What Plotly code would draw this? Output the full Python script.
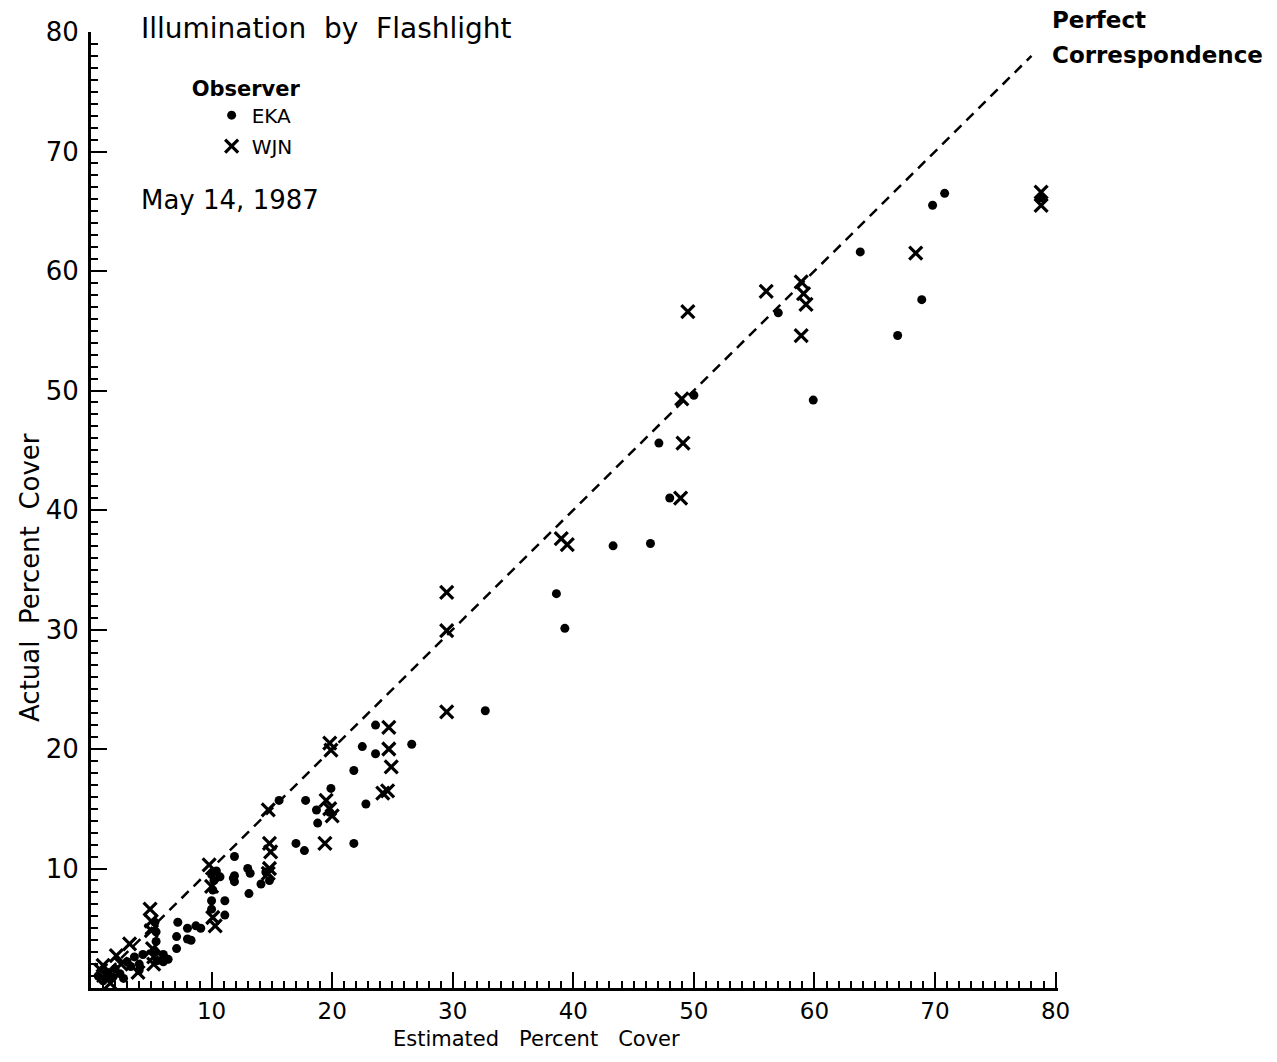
import plotly.graph_objects as go

# ---- data ----
eka_x = [0.6, 1.0, 1.3, 1.8, 2.0, 2.4, 2.7, 3.0, 3.3, 3.6, 4.0, 4.3, 4.0,
         5.3, 5.4, 5.4, 5.3, 5.5, 6.0, 6.4, 6.0,
         7.2, 8.0, 9.1, 7.1, 8.0, 7.1, 8.7, 8.3,
         10.0, 10.4, 10.7, 10.2, 10.1, 10.0, 10.0, 11.1, 11.1,
         11.9, 11.9, 11.9, 13.0, 13.2, 13.1, 14.1, 14.5, 14.8, 11.8,
         15.6, 17.8, 18.7, 18.8, 19.9, 17.0, 17.7, 19.8,
         21.8, 22.8, 21.8, 22.5, 23.6, 23.6, 26.6,
         32.7, 38.6, 39.3, 43.3, 46.4, 47.1, 48.0, 50.0,
         57.0, 59.9, 63.8, 66.9, 68.9, 69.8, 70.8, 78.8]
eka_y = [1.0, 0.6, 1.3, 0.9, 1.6, 1.2, 0.8, 2.2, 1.8, 2.6, 2.0, 2.8, 1.5,
         5.5, 4.7, 3.9, 3.1, 2.3, 2.8, 2.4, 2.2,
         5.5, 5.0, 5.0, 4.3, 4.1, 3.3, 5.2, 4.0,
         9.5, 9.8, 9.3, 9.0, 8.2, 7.3, 6.6, 7.3, 6.1,
         11.0, 9.4, 8.9, 10.0, 9.6, 7.9, 8.7, 9.7, 9.0, 9.2,
         15.7, 15.7, 14.9, 13.8, 16.7, 12.1, 11.5, 14.7,
         12.1, 15.4, 18.2, 20.2, 19.6, 22.0, 20.4,
         23.2, 33.0, 30.1, 37.0, 37.2, 45.6, 41.0, 49.6,
         56.5, 49.2, 61.6, 54.6, 57.6, 65.5, 66.5, 66.1]

wjn_x = [0.8, 1.0, 1.6, 2.1, 3.2, 3.9, 2.5, 1.3,
         4.9, 5.0, 5.0, 5.1, 5.2, 5.2,
         9.8, 10.3, 10.1, 10.0,
         14.7, 14.8, 14.9, 14.7, 14.8,
         19.8, 19.9, 19.5, 20.0, 19.4, 19.8,
         24.7, 24.7, 24.9, 24.6, 24.2,
         29.5, 29.5, 29.5, 39.0, 39.5,
         48.9, 49.1, 49.0, 49.5, 56.0,
         58.9, 59.1, 59.3, 58.9, 68.4, 78.8, 78.8]
wjn_y = [1.5, 1.9, 0.4, 2.7, 3.7, 1.3, 2.0, 1.0,
         6.6, 5.6, 4.8, 3.3, 2.6, 2.0,
         10.3, 5.2, 5.9, 8.5,
         14.9, 12.1, 11.4, 9.6, 10.0,
         20.5, 19.9, 15.7, 14.4, 12.1, 15.0,
         21.8, 20.0, 18.5, 16.5, 16.3,
         33.1, 29.9, 23.1, 37.6, 37.1,
         41.0, 45.6, 49.3, 56.6, 58.3,
         59.1, 58.1, 57.2, 54.6, 61.5, 66.6, 65.5]

line_x = [0.5, 78.0]
line_y = list(line_x)

x_ticks = [10, 20, 30, 40, 50, 60, 70, 80]
y_ticks = [10, 20, 30, 40, 50, 60, 70, 80]

FONT = "DejaVu Sans"

fig = go.Figure()
fig.add_trace(go.Scatter(
    x=line_x, y=line_y, mode="lines", showlegend=False,
    line=dict(color="black", width=2.5, dash="10px,7px"), hoverinfo="skip"))
fig.add_trace(go.Scatter(
    x=eka_x, y=eka_y, mode="markers", name="EKA", legendgroup="a",
    marker=dict(symbol="circle", size=9, color="black"), cliponaxis=False))
fig.add_trace(go.Scatter(
    x=wjn_x, y=wjn_y, mode="markers", name="WJN", legendgroup="b",
    marker=dict(symbol="x-thin", size=13, color="black",
                line=dict(color="black", width=3.2)), cliponaxis=False))

axis_common = dict(
    showgrid=False, zeroline=False, showline=True, linecolor="black",
    linewidth=3, ticks="inside", ticklen=16, tickwidth=2, tickcolor="black",
    minor=dict(tickmode="linear", tick0=0, dtick=1, ticks="inside",
               ticklen=7, tickwidth=1.5, tickcolor="black"),
    tickmode="array", fixedrange=True, automargin=False)

fig.update_xaxes(range=[0, 80.2], tickvals=x_ticks,
                 ticktext=[str(v) for v in x_ticks],
                 tickfont=dict(family=FONT, size=23, color="black"),
                 ticklabelstandoff=0, **axis_common)
fig.update_yaxes(range=[0, 80], tickvals=y_ticks,
                 ticktext=[str(v) for v in y_ticks],
                 tickfont=dict(family=FONT, size=26, color="black"),
                 ticklabelstandoff=4, **axis_common)

fig.add_annotation(text="Estimated   Percent   Cover", x=0.461, y=-0.0533,
                   xref="paper", yref="paper", xanchor="center",
                   yanchor="middle", showarrow=False,
                   font=dict(family=FONT, size=21, color="black"))
fig.add_annotation(text="Actual  Percent  Cover", x=-0.063, y=0.429,
                   xref="paper", yref="paper", xanchor="center",
                   yanchor="middle", textangle=-90, showarrow=False,
                   font=dict(family=FONT, size=26, color="black"))
fig.add_annotation(text="Illumination  by  Flashlight", x=0.0496, y=1.004,
                   xref="paper", yref="paper", xanchor="left",
                   yanchor="middle", showarrow=False,
                   font=dict(family=FONT, size=28, color="black"))
fig.add_annotation(text="May 14, 1987", x=0.0496, y=0.8243,
                   xref="paper", yref="paper", xanchor="left",
                   yanchor="middle", showarrow=False,
                   font=dict(family=FONT, size=26, color="black"))
fig.add_annotation(text="<b>Perfect</b>", x=0.992, y=1.0126,
                   xref="paper", yref="paper", xanchor="left",
                   yanchor="middle", showarrow=False,
                   font=dict(family=FONT, size=23, color="black"))
fig.add_annotation(text="<b>Correspondence</b>", x=0.992, y=0.976,
                   xref="paper", yref="paper", xanchor="left",
                   yanchor="middle", showarrow=False,
                   font=dict(family=FONT, size=23, color="black"))

fig.update_layout(
    width=1261, height=1046,
    margin=dict(l=83, r=211, t=24, b=66, autoexpand=False),
    paper_bgcolor="white", plot_bgcolor="white",
    legend=dict(x=0.102, y=0.962, xanchor="left", yanchor="top",
                bgcolor="rgba(0,0,0,0)", tracegroupgap=2, indentation=22,
                title=dict(text="<b>Observer</b>",
                           font=dict(family=FONT, size=21, color="black")),
                font=dict(family=FONT, size=20, color="black")),
)

fig.write_html("out.html")
